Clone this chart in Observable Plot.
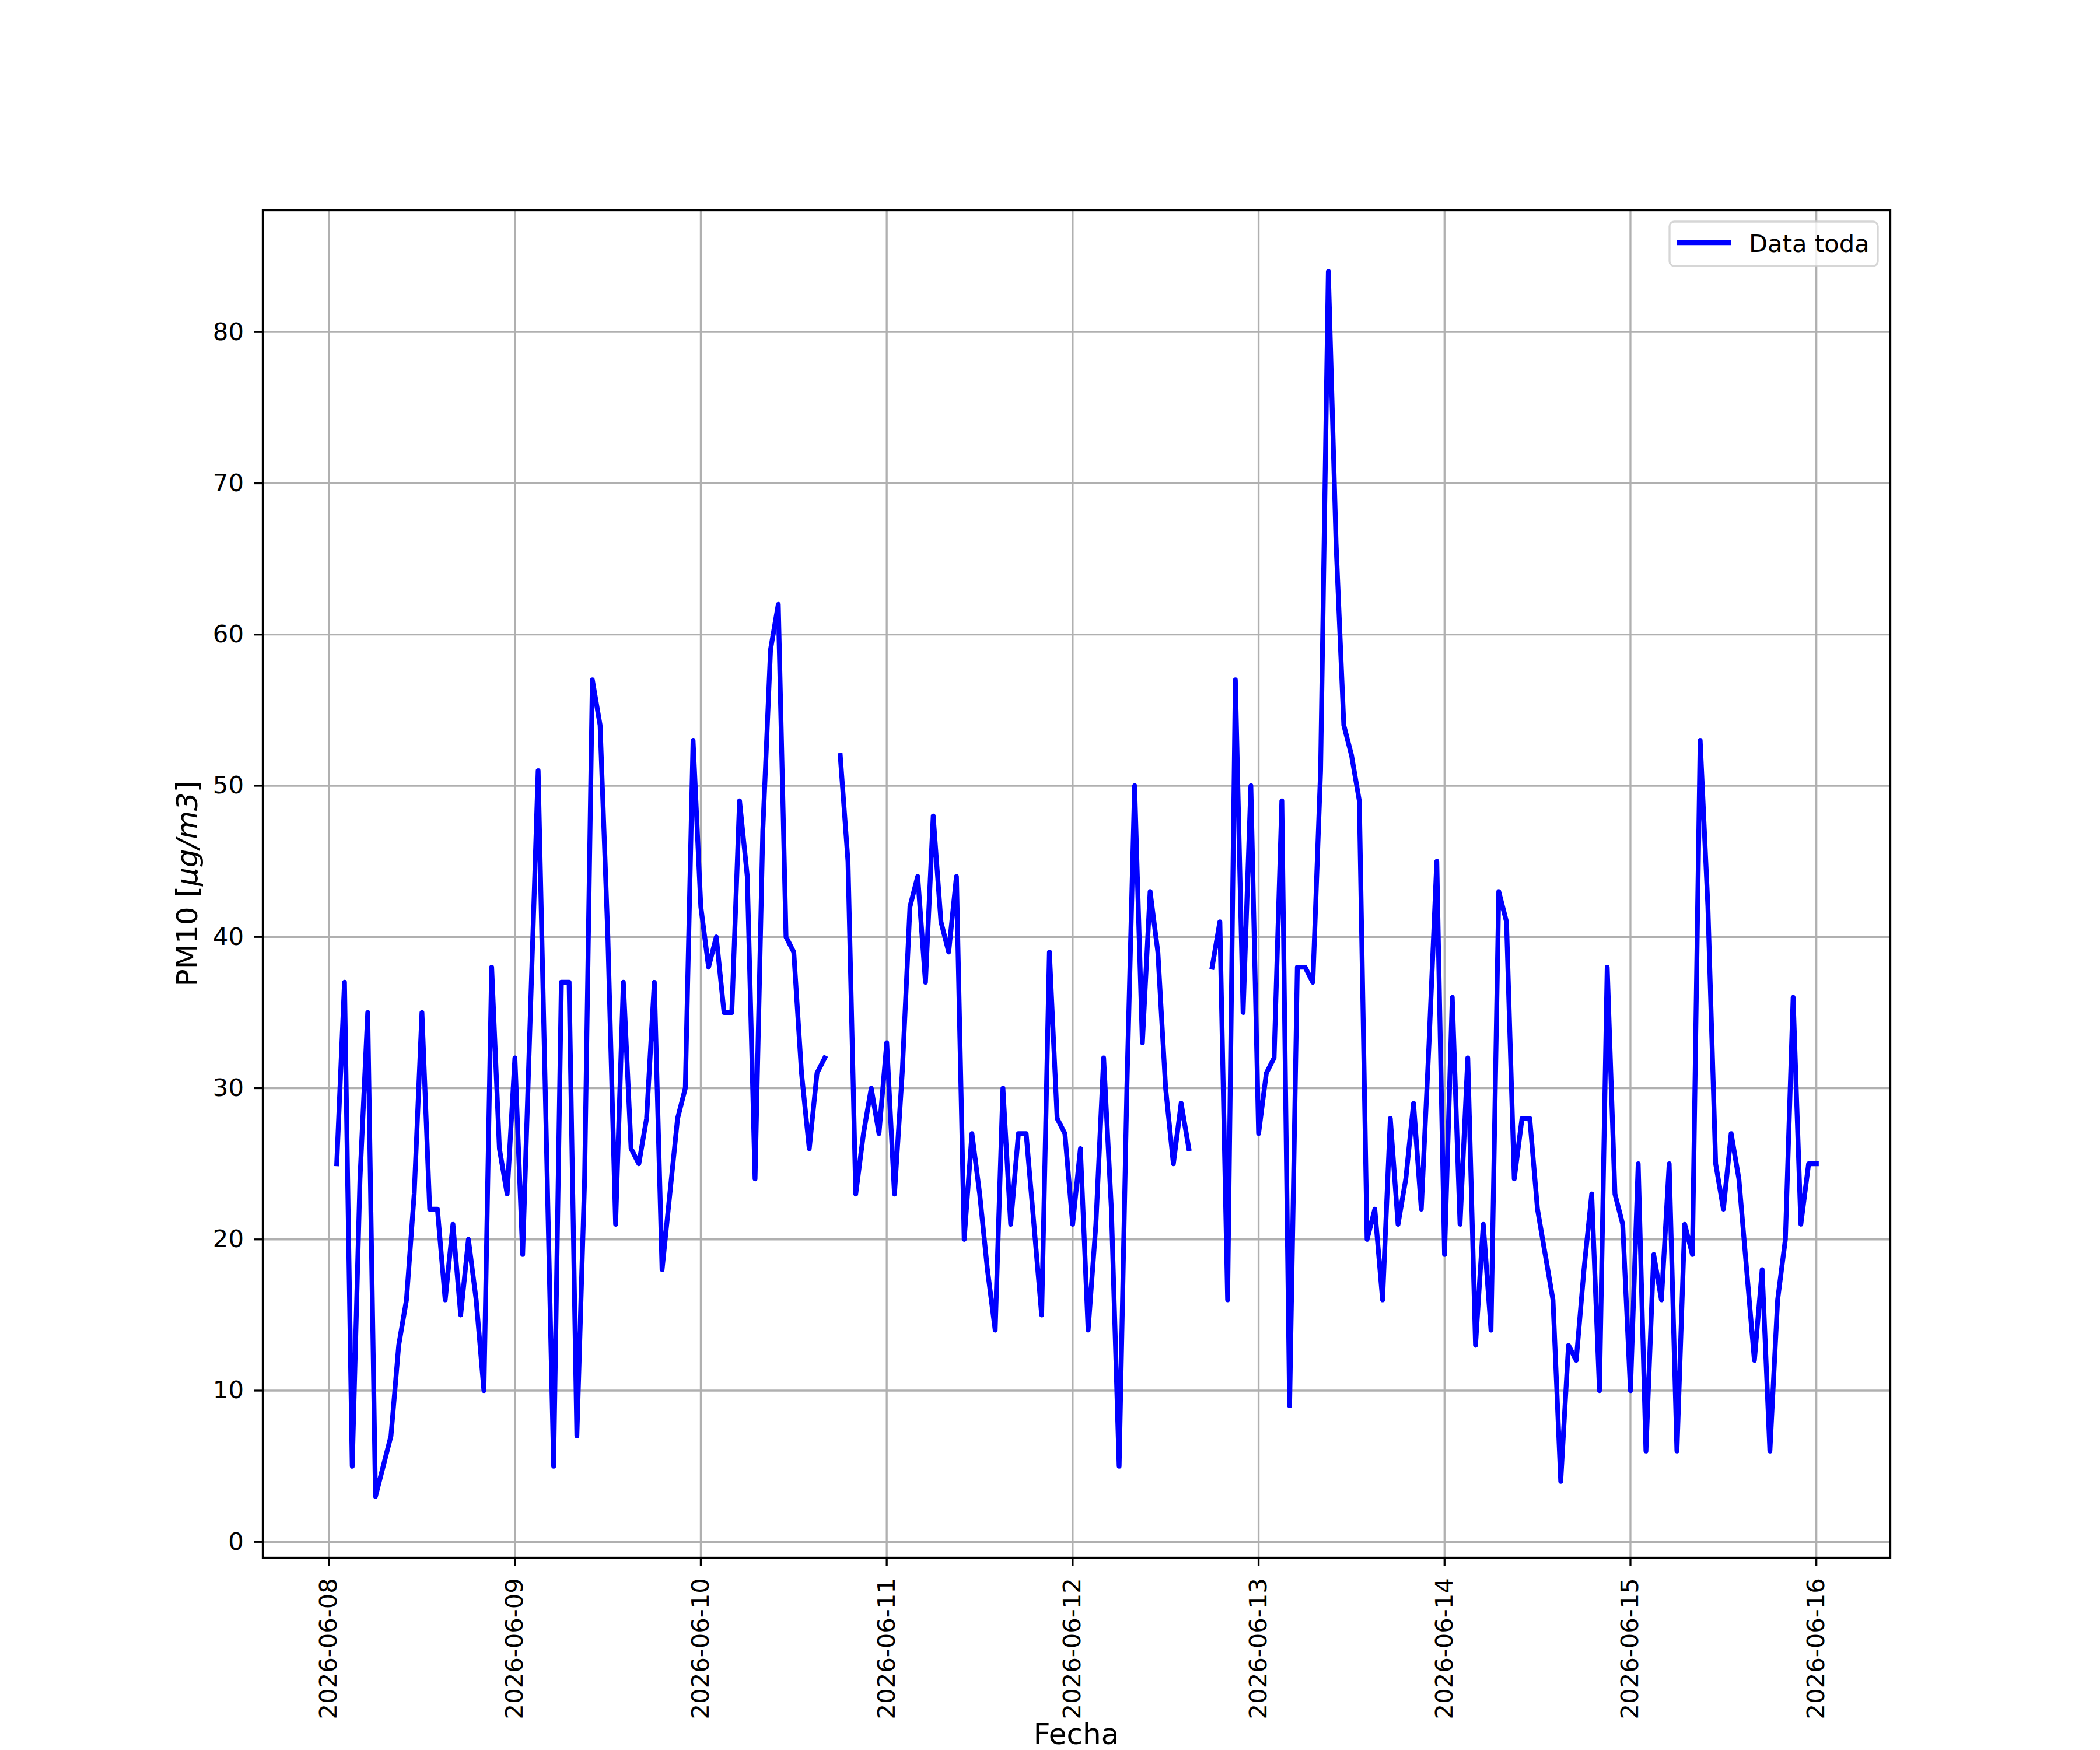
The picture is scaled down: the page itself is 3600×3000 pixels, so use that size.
<!DOCTYPE html>
<html>
<head>
<meta charset="utf-8">
<script src="https://cdn.jsdelivr.net/npm/d3@7"></script>
<script src="https://cdn.jsdelivr.net/npm/@observablehq/plot@0.6"></script>
<style>
  html, body { margin: 0; padding: 0; background: white; }
  #chart { width: 3600px; height: 3000px; }
</style>
</head>
<body>
<div id="chart"></div>
<script>
// Hourly PM10 values (µg/m3), series starts 2026-06-08 01:00
const seriesStart = "2026-06-08T01:00:00Z";
const day0608 = [25, 37, 5, 24, 35, 3, 5, 7, 13, 16, 23, 35, 22, 22, 16, 21, 15, 20, 16, 10, 38, 26, 23];
const day0609 = [32, 19, 35, 51, 28, 5, 37, 37, 7, 24, 57, 54, 40, 21, 37, 26, 25, 28, 37, 18, 23, 28, 30, 53];
const day0610 = [42, 38, 40, 35, 35, 49, 44, 24, 47, 59, 62, 40, 39, 31, 26, 31, 32, null, 52, 45, 23, 27, 30, 27];
const day0611 = [33, 23, 31, 42, 44, 37, 48, 41, 39, 44, 20, 27, 23, 18, 14, 30, 21, 27, 27, 21, 15, 39, 28, 27];
const day0612 = [21, 26, 14, 21, 32, 22, 5, 30, 50, 33, 43, 39, 30, 25, 29, 26, null, null, 38, 41, 16, 57, 35, 50];
const day0613 = [27, 31, 32, 49, 9, 38, 38, 37, 51, 84, 66, 54, 52, 49, 20, 22, 16, 28, 21, 24, 29, 22, 33, 45];
const day0614 = [19, 36, 21, 32, 13, 21, 14, 43, 41, 24, 28, 28, 22, 19, 16, 4, 13, 12, 18, 23, 10, 38, 23, 21];
const day0615 = [10, 25, 6, 19, 16, 25, 6, 21, 19, 53, 42, 25, 22, 27, 24, 18, 12, 18, 6, 16, 20, 36, 21, 25];
const day0616 = [25];

// Axis ticks and labels
const xTickLabels = ["2026-06-08", "2026-06-09", "2026-06-10", "2026-06-11", "2026-06-12",
                     "2026-06-13", "2026-06-14", "2026-06-15", "2026-06-16"];
const yTicks = [0, 10, 20, 30, 40, 50, 60, 70, 80];
const xLabel = "Fecha";
const yLabelMain = "PM10 [";
const yLabelUnit = "μg/m3";
const yLabelEnd = "]";
const legendLabel = "Data toda";

// Build table
const values = [...day0608, ...day0609, ...day0610, ...day0611, ...day0612,
                ...day0613, ...day0614, ...day0615, ...day0616];
const t0 = new Date(seriesStart).getTime();
const data = values.map((v, i) => ({ date: new Date(t0 + i * 3600e3), pm10: v }));
const xTicks = xTickLabels.map(s => new Date(s + "T00:00:00Z"));

// matplotlib-like 5% margins
const tMin = data[0].date.getTime(), tMax = data[data.length - 1].date.getTime();
const tPad = (tMax - tMin) * 0.05;
const finite = values.filter(v => v != null);
const vMin = d3.min(finite), vMax = d3.max(finite);
const vPad = (vMax - vMin) * 0.05;

const W = 3600, H = 3000;
const mL = 450, mR = 360, mT = 360, mB = 330;

const chart = Plot.plot({
  width: W,
  height: H,
  marginLeft: mL,
  marginRight: mR,
  marginTop: mT,
  marginBottom: mB,
  style: { fontFamily: "DejaVu Sans", fontSize: "41.7px", background: "white", color: "black", overflow: "visible" },
  x: { type: "utc", domain: [new Date(tMin - tPad), new Date(tMax + tPad)] },
  y: { domain: [vMin - vPad, vMax + vPad] },
  marks: [
    Plot.gridX(xTicks, { stroke: "#b0b0b0", strokeOpacity: 1, strokeWidth: 3.3 }),
    Plot.gridY(yTicks, { stroke: "#b0b0b0", strokeOpacity: 1, strokeWidth: 3.3 }),
    Plot.line(data, { x: "date", y: "pm10", stroke: "#0000ff", strokeWidth: 8.3, strokeLinejoin: "round", strokeLinecap: "square" }),
    Plot.frame({ stroke: "black", strokeWidth: 3.3 }),
    Plot.axisX(xTicks, { tickFormat: d3.utcFormat("%Y-%m-%d"), tickRotate: -90, tickSize: 14.6, tickPadding: 20, strokeWidth: 3.3, label: null, fontSize: 41.7 }),
    Plot.axisY(yTicks, { tickSize: 14.6, tickPadding: 18, strokeWidth: 3.3, label: null, fontSize: 41.7 })
  ]
});

document.getElementById("chart").appendChild(chart);

// Axis titles and legend (matplotlib style)
const svg = d3.select(chart);
svg.append("text")
  .attr("x", mL + (W - mL - mR) / 2)
  .attr("y", 2990)
  .attr("text-anchor", "middle")
  .attr("font-family", "DejaVu Sans")
  .attr("font-size", 50)
  .attr("fill", "black")
  .text(xLabel);

const yl = svg.append("text")
  .attr("transform", `translate(338,${mT + (H - mT - mB) / 2}) rotate(-90)`)
  .attr("text-anchor", "middle")
  .attr("font-family", "DejaVu Sans")
  .attr("font-size", 50)
  .attr("fill", "black");
yl.append("tspan").text(yLabelMain);
yl.append("tspan").attr("font-style", "italic").text(yLabelUnit);
yl.append("tspan").text(yLabelEnd);

const lg = svg.append("g");
lg.append("rect")
  .attr("x", 2862).attr("y", 380).attr("width", 357).attr("height", 76)
  .attr("rx", 8).attr("ry", 8)
  .attr("fill", "white").attr("fill-opacity", 0.8)
  .attr("stroke", "#cccccc").attr("stroke-opacity", 0.8).attr("stroke-width", 3.3);
lg.append("line")
  .attr("x1", 2875).attr("x2", 2967).attr("y1", 416).attr("y2", 416)
  .attr("stroke", "#0000ff").attr("stroke-width", 8.3);
lg.append("text")
  .attr("x", 2998).attr("y", 432)
  .attr("text-anchor", "start")
  .attr("font-family", "DejaVu Sans").attr("font-size", 41.7).attr("fill", "black")
  .text(legendLabel);
</script>
</body>
</html>
